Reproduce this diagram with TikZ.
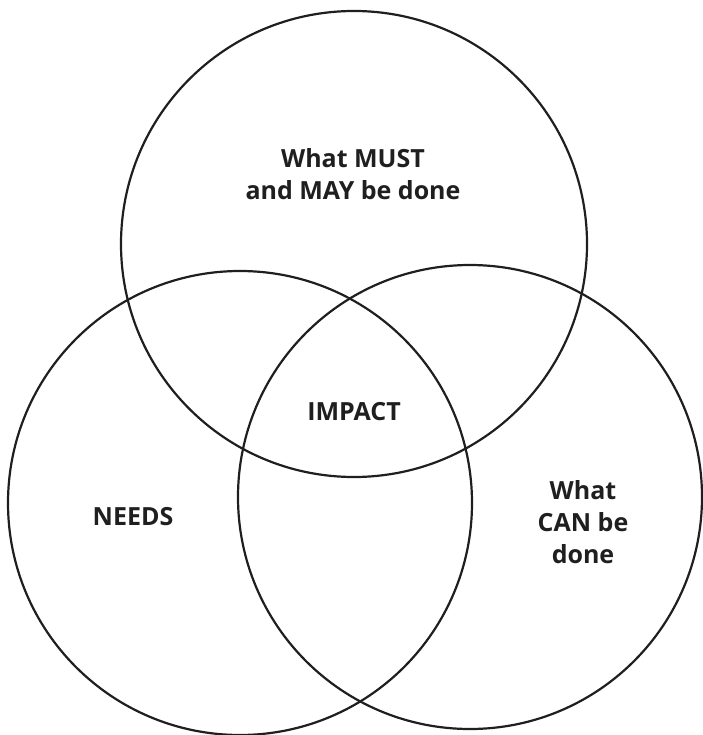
\documentclass[tikz,border=0pt]{standalone}
\usepackage{fontspec}
\setmainfont{Open Sans}
\begin{document}
\begin{tikzpicture}[x=1pt,y=-1pt,
  ring/.style={draw=black!88, line width=2.2pt},
  label/.style={font=\bfseries\fontsize{25}{32}\selectfont, text=black!88, align=center}]
  \useasboundingbox (0,0) rectangle (702,735);
  % the three overlapping circles
  \node[ring, circle, minimum size=466pt, inner sep=0pt] (top) at (354,244) {};
  \node[ring, circle, minimum size=464pt, inner sep=0pt] (left) at (240,503) {};
  \node[ring, circle, minimum size=464pt, inner sep=0pt] (right) at (470,497) {};
  % labels
  \node[label] (must) at (353,174) {What MUST\\and MAY be done};
  \node[label] (impact) at (354,412) {IMPACT};
  \node[label] (needs) at (133,517) {NEEDS};
  \node[label] (can) at (583,522) {What\\CAN be\\done};
\end{tikzpicture}
\end{document}
